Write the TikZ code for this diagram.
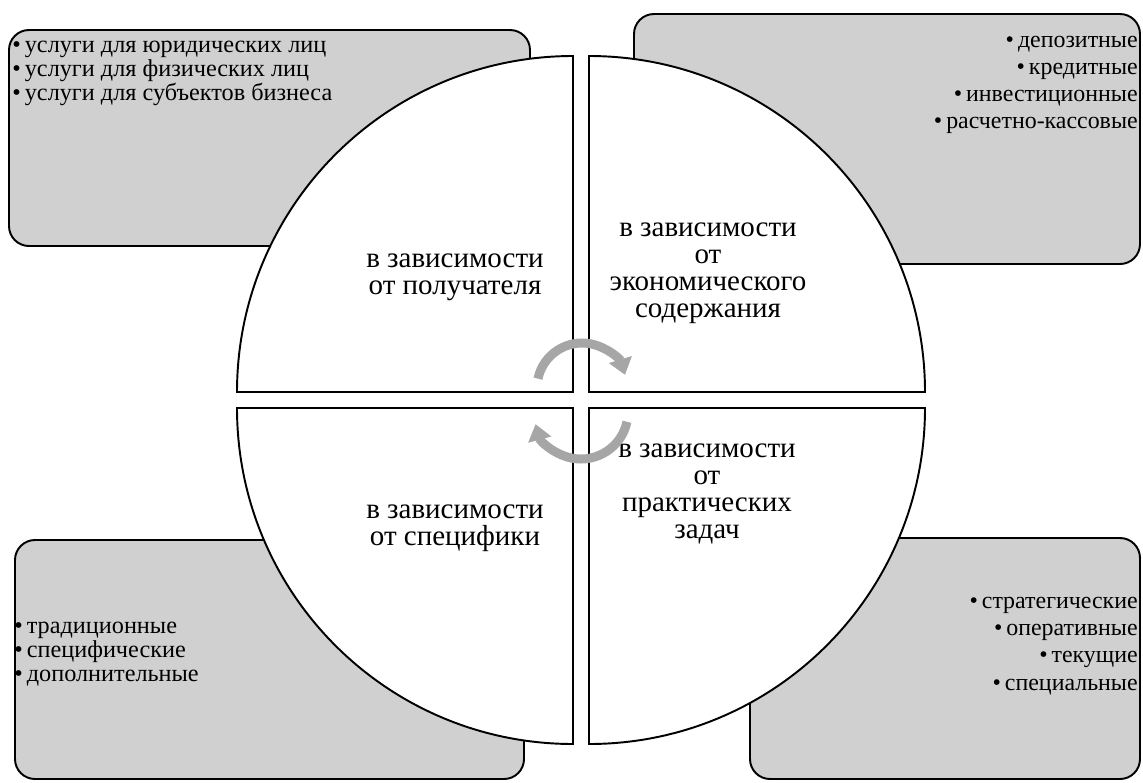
\documentclass[tikz,border=0pt]{standalone}
\usepackage{fontspec}
\setmainfont{LiberationSerif}[Extension=.ttf, UprightFont=*-Regular, BoldFont=*-Bold]
\usetikzlibrary{arrows.meta}
\definecolor{boxgray}{RGB}{208,208,208}
\definecolor{arrowgray}{RGB}{166,166,166}

\begin{document}
\begin{tikzpicture}[x=0.02cm,y=-0.02cm,
  listbox/.style={draw=black, line width=1.1pt, fill=boxgray, rounded corners=0.4cm},
  sector/.style={draw=black, line width=1.1pt, fill=white},
  sectortext/.style={align=center, inner sep=0pt, font=\fontsize{16.5}{15.3}\selectfont},
  listtext/.style={inner sep=0pt, font=\fontsize{13.8}{13.7}\selectfont},
  longlist/.style={inner sep=0pt, font=\fontsize{13.6}{15.5}\selectfont},
  turn/.style={arrowgray, line width=0.18cm, -{Triangle[length=0.32cm,width=0.46cm]}}]
\useasboundingbox (0,0) rectangle (1143,782);
% Grey boxes in the corners
\draw[listbox] (9,30) rectangle (530,246);
\draw[listbox] (634,14) rectangle (1140,264);
\draw[listbox] (15,540) rectangle (524,779);
\draw[listbox] (750,538) rectangle (1140,779);
% Four quarters of the circle
\draw[sector] (573,392) -- (573,56) arc[start angle=270, end angle=180, radius=336] -- cycle;
\draw[sector] (589,392) -- (589,56) arc[start angle=270, end angle=360, radius=336] -- cycle;
\draw[sector] (573,408) -- (573,744) arc[start angle=90, end angle=180, radius=336] -- cycle;
\draw[sector] (589,408) -- (589,744) arc[start angle=90, end angle=0, radius=336] -- cycle;
% Labels of the quarters
\node[sectortext] (byRecipient) at (455,277) {в зависимости\\от получателя};
\node[sectortext] (byContent) at (708,273) {в зависимости\\от\\экономического\\содержания};
\node[sectortext] (bySpecifics) at (455,528) {в зависимости\\от специфики};
\node[sectortext] (byTasks) at (707,494) {в зависимости\\от\\практических\\задач};
% Lists in the boxes
\node[listtext, anchor=north west, align=left] (recipientList) at (12,41)
  {\textbullet\,услуги для юридических лиц\\\textbullet\,услуги для физических лиц\\\textbullet\,услуги для субъектов бизнеса};
\node[longlist, anchor=east, align=right] (contentList) at (1138,85)
  {\textbullet\,депозитные\\\textbullet\,кредитные\\\textbullet\,инвестиционные\\\textbullet\,расчетно-кассовые};
\node[listtext, anchor=west, align=left] (specificsList) at (14,654)
  {\textbullet\,традиционные\\\textbullet\,специфические\\\textbullet\,дополнительные};
\node[longlist, anchor=east, align=right] (tasksList) at (1138,646)
  {\textbullet\,стратегические\\\textbullet\,оперативные\\\textbullet\,текущие\\\textbullet\,специальные};
% Round arrows in the middle
\coordinate (upperHub) at (582,388);
\coordinate (lowerHub) at (581,412);
\draw[turn] (upperHub) ++(192:45) arc[start angle=192, end angle=343, radius=45];
\draw[turn] (lowerHub) ++(12:47) arc[start angle=12, end angle=165, radius=47];
\end{tikzpicture}
\end{document}
